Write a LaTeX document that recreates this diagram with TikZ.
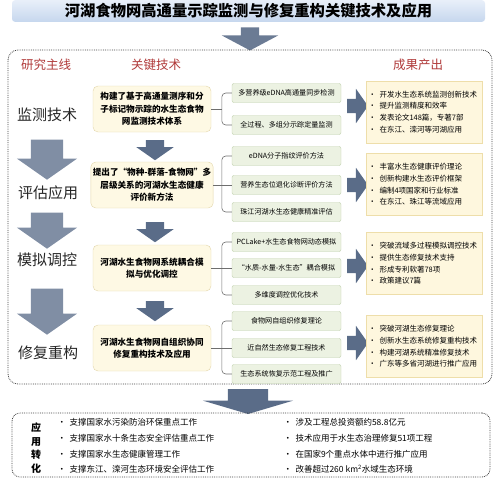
\documentclass[tikz,border=0pt]{standalone}
\usepackage{fontspec}
\setmainfont{Noto Sans CJK SC}
\usepackage{xcolor}
\usepackage{tikz}
\usetikzlibrary{shapes,arrows,positioning}
\definecolor{titleTop}{RGB}{232,239,249}
\definecolor{titleBot}{RGB}{198,215,238}
\definecolor{hdrRed}{RGB}{176,58,58}
\definecolor{arrLeft}{RGB}{128,142,164}
\definecolor{arrDark}{RGB}{90,108,136}
\definecolor{keyFill}{RGB}{254,249,228}
\definecolor{keyDraw}{RGB}{226,214,170}
\definecolor{subFill}{RGB}{236,242,226}
\definecolor{subDraw}{RGB}{190,206,170}
\definecolor{outFill}{RGB}{254,247,222}
\definecolor{outDraw}{RGB}{238,222,170}
\definecolor{brkGray}{RGB}{110,110,110}
\newcommand{\bul}{\textbullet\hspace{3.5pt}}

\begin{document}
\begin{tikzpicture}[x=1pt, y=-1pt,
		keybox/.style={rectangle, rounded corners=5pt, draw=keyDraw, fill=keyFill, minimum width=118pt,
			minimum height=46pt, align=center, font=\fontsize{8.6}{12.5}\selectfont\bfseries, inner sep=2pt},
		subbox/.style={rectangle, rounded corners=2pt, draw=subDraw, fill=subFill, minimum width=109pt,
			minimum height=19pt, font=\fontsize{7.1}{9}\selectfont, inner sep=1pt},
		outbox/.style={rectangle, draw=outDraw, fill=outFill, minimum width=116pt, minimum height=62pt,
			text width=111pt, align=left, inner xsep=2.5pt, font=\fontsize{7.5}{11.7}\selectfont},
		hdr/.style={font=\fontsize{12.5}{14}\selectfont, text=hdrRed},
		lbl/.style={font=\fontsize{15}{17}\selectfont, text=black!85},
		bigarr/.style={single arrow, rotate=-90, fill=arrLeft, inner xsep=0pt, inner ysep=16pt,
			single arrow head extend=14pt, single arrow tip angle=110, minimum height=40pt},
		midarr/.style={single arrow, rotate=-90, fill=arrDark, inner xsep=0pt, inner ysep=9pt,
			single arrow head extend=9.5pt, single arrow tip angle=110, minimum height=20pt},
		rtarr/.style={single arrow, fill=arrDark, inner xsep=0pt, inner ysep=7pt,
			single arrow head extend=10pt, single arrow tip angle=110, minimum height=21pt},
		brk/.style={draw=brkGray, rounded corners=4pt, line width=0.6pt},
		dotbox/.style={draw=black!75, densely dotted, line width=0.8pt, rounded corners=10pt}
		]
		\useasboundingbox (0,0) rectangle (500,483);
		
		% title and main frame
		\node[rectangle, rounded corners=3pt, top color=titleTop, bottom color=titleBot, minimum width=473pt,
		minimum height=18pt, font=\fontsize{15.3}{17}\selectfont\bfseries] (title) at (248.5,11)
		{河湖食物网高通量示踪监测与修复重构关键技术及应用};
		\node[single arrow, rotate=-90, fill=arrDark!90, inner xsep=0pt, inner ysep=9pt,
		single arrow head extend=19pt, single arrow tip angle=124, minimum height=23pt] (atop) at (250,36.5) {};
		\node[dotbox, minimum width=484pt, minimum height=334pt] (frame) at (250,217) {};
		
		\node[hdr] (h1) at (46,65)  {研究主线};
		\node[hdr] (h2) at (156,65) {关键技术};
		\node[hdr] (h3) at (418,65) {成果产出};
		
		% research line
		\node[lbl] (l1) at (47,115) {监测技术};
		\node[lbl] (l2) at (48,193) {评估应用};
		\node[lbl] (l3) at (47,260) {模拟调控};
		\node[lbl] (l4) at (48,353) {修复重构};
		\node[bigarr] (la1) at (47,154) {};
		\node[bigarr, minimum height=36pt] (la2) at (47,225) {};
		\node[bigarr, minimum height=46pt] (la3) at (47,306) {};
		
		% key techniques
		\node[keybox] (k1) at (152,109) {构建了基于高通量测序和分\\子标记物示踪的水生态食物\\网监测技术体系};
		\node[keybox] (k2) at (152,185) {提出了“物种-群落-食物网”多\\层级关系的河湖水生态健康\\评价新方法};
		\node[keybox] (k3) at (152,268) {河湖水生食物网系统耦合模\\拟与优化调控};
		\node[keybox] (k4) at (152,348) {河湖水生食物网自组织协同\\修复重构技术及应用};
		\node[midarr] (ma1) at (155,147) {};
		\node[midarr] (ma2) at (155,229) {};
		\node[midarr] (ma3) at (155,308) {};
		
		% sub techniques
		\node[subbox] (s1a) at (286.5,93)  {多营养级eDNA高通量同步检测};
		\node[subbox] (s1b) at (286.5,125) {全过程、多组分示踪定量监测};
		\node[subbox] (s2a) at (286.5,156) {eDNA分子指纹评价方法};
		\node[subbox] (s2b) at (286.5,185) {营养生态位退化诊断评价方法};
		\node[subbox] (s2c) at (286.5,212) {珠江河湖水生态健康精准评估};
		\node[subbox] (s3a) at (286.5,242) {PCLake+水生态食物网动态模拟};
		\node[subbox] (s3b) at (286.5,268) {“水质-水量-水生态”耦合模拟};
		\node[subbox] (s3c) at (286.5,295) {多维度调控优化技术};
		\node[subbox] (s4a) at (286.5,321) {食物网自组织修复理论};
		\node[subbox] (s4b) at (286.5,348) {近自然生态修复工程技术};
		\node[subbox] (s4c) at (286.5,374) {生态系统恢复示范工程及推广};
		
		\draw[brk] (s1a.west) -- ++(-10,0) |- (s1b.west);
		\draw[brk] (k1.east) -- ++(11,0);
		\draw[brk] (s2a.west) -- ++(-10,0) |- (s2c.west);
		\draw[brk] (k2.east) -- (s2b.west);
		\draw[brk] (s3a.west) -- ++(-10,0) |- (s3c.west);
		\draw[brk] (k3.east) -- (s3b.west);
		\draw[brk] (s4a.west) -- ++(-10,0) |- (s4c.west);
		\draw[brk] (k4.east) -- (s4b.west);
		
		% outputs
		\node[rtarr] (ra1) at (355,106) {};
		\node[rtarr] (ra2) at (355,185) {};
		\node[rtarr] (ra3) at (355,266) {};
		\node[rtarr] (ra4) at (355,343) {};
		\node[outbox] (o1) at (424,112) {\bul 开发水生态系统监测创新技术\\\bul 提升监测精度和效率\\\bul 发表论文148篇，专著7部\\\bul 在东江、滦河等河湖应用};
		\node[outbox] (o2) at (424,184.5) {\bul 丰富水生态健康评价理论\\\bul 创新构建水生态评价框架\\\bul 编制4项国家和行业标准\\\bul 在东江、珠江等流域应用};
		\node[outbox] (o3) at (424,263.5) {\bul 突破流域多过程模拟调控技术\\\bul 提供生态修复技术支持\\\bul 形成专利软著78项\\\bul 政策建议7篇};
		\node[outbox] (o4) at (424,346.5) {\bul 突破河湖生态修复理论\\\bul 创新水生态系统修复重构技术\\\bul 构建河湖系统精准修复技术\\\bul 广东等多省河湖进行推广应用};
		
		% application
		\node[single arrow, rotate=-90, fill=arrDark, inner xsep=0pt, inner ysep=20pt,
		single arrow head extend=25pt, single arrow tip angle=147, minimum height=25pt] (abot) at (248,398.5) {};
		\node[dotbox, rounded corners=8pt, minimum width=478pt, minimum height=64pt] (apply) at (251,445) {};
		\node[align=center, font=\fontsize{10}{13.5}\selectfont\bfseries] (ayy) at (36,448) {应\\用\\转\\化};
		\node[anchor=west, align=left, font=\fontsize{8.5}{15.7}\selectfont] (ap1) at (54,446)
		{\bul 支撑国家水污染防治环保重点工作\\\bul 支撑国家水十条生态安全评估重点工作\\\bul 支撑国家水生态健康管理工作\\\bul 支撑东江、滦河生态环境安全评估工作};
		\node[anchor=west, align=left, font=\fontsize{8.5}{15.7}\selectfont] (ap2) at (280,446)
		{\bul 涉及工程总投资额约58.8亿元\\\bul 技术应用于水生态治理修复51项工程\\\bul 在国家9个重点水体中进行推广应用\\\bul 改善超过260 km\textsuperscript{2}水域生态环境};
\end{tikzpicture}
\end{document}
